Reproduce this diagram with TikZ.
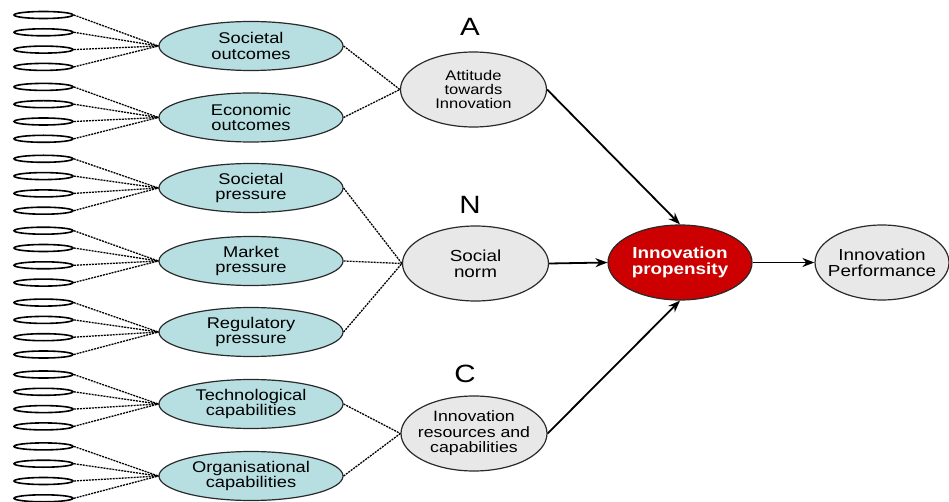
\documentclass[tikz,border=0pt]{standalone}
\usepackage{fontspec}
\setmainfont{Liberation Sans}[FakeStretch=1.18]
\usetikzlibrary{shapes.geometric,arrows.meta}
\definecolor{tealfill}{HTML}{B7DFE2}
\definecolor{grayfill}{HTML}{E8E8E8}
\definecolor{redfill}{HTML}{CC0000}
\definecolor{edge}{HTML}{2A2A2A}
\tikzset{
  smallell/.style={ellipse,draw=black,line width=1.6pt,fill=white,minimum width=59pt,minimum height=7pt,inner sep=0pt},
  tealell/.style={ellipse,draw=edge,line width=1.2pt,fill=tealfill,minimum width=184pt,minimum height=49pt,inner xsep=-6pt,inner ysep=0pt,align=center,font=\fontsize{15.5}{15.5}\selectfont},
  grayell/.style={ellipse,draw=edge,line width=1.2pt,fill=grayfill,minimum width=146pt,minimum height=75pt,inner xsep=-14pt,inner ysep=-4pt,align=center,font=\fontsize{14}{13.8}\selectfont},
  redell/.style={ellipse,draw=edge,line width=1.2pt,fill=redfill,text=white,minimum width=144pt,minimum height=75pt,inner sep=0pt,align=center,font=\fontsize{16}{16}\selectfont\bfseries},
  perfell/.style={ellipse,draw=edge,line width=1.2pt,fill=grayfill,minimum width=134pt,minimum height=75pt,inner xsep=-16pt,inner ysep=0pt,align=center,font=\fontsize{16}{16}\selectfont},
  letter/.style={font=\fontsize{25}{25}\selectfont,inner sep=0pt},
  dotline/.style={line width=1.3pt,dash pattern=on 2pt off 1pt,black},
  arr/.style={line width=1.8pt,-{Stealth[length=12pt,width=9pt]}},
}
\begin{document}
\begin{tikzpicture}[x=1pt,y=-1pt]
\useasboundingbox (0,0) rectangle (949,502);
% teal nodes
\node[tealell] (t1) at (251,46) {Societal\\outcomes};
\node[tealell] (t2) at (251,117.5) {Economic\\outcomes};
\node[tealell] (t3) at (251,188) {Societal\\pressure};
\node[tealell] (t4) at (251,261) {Market\\pressure};
\node[tealell] (t5) at (251,332) {Regulatory\\pressure};
\node[tealell] (t6) at (251,404) {Technological\\capabilities};
\node[tealell] (t7) at (251,476) {Organisational\\capabilities};
% small ellipses
\foreach \g in {1,...,7}{
  \foreach \i in {1,...,4}{
    \pgfmathsetmacro{\yy}{15+(3*(\g-1)+(\i-1))*17.3+(\g-1)*20}
    \node[smallell] (s\g\i) at (43.5,\yy) {};
    \draw[dotline] (s\g\i.east) -- (t\g.west);
  }
}
% gray nodes
\node[grayell] (att) at (473.5,89.5) {Attitude\\towards\\Innovation};
\node[grayell,font=\fontsize{16}{16}\selectfont] (soc) at (475.5,263.5) {Social\\norm};
\node[grayell,font=\fontsize{15}{15.5}\selectfont] (res) at (474,433.5) {Innovation\\resources and\\capabilities};
\node[letter] (la) at (470,27) {A};
\node[letter] (ln) at (470,205) {N};
\node[letter] (lc) at (465,374) {C};
\node[redell] (prop) at (680,262.5) {Innovation\\propensity};
\node[perfell] (perf) at (882,262.5) {Innovation\\Performance};
% dotted connectors
\draw[dotline] (t1.east) -- (att.west);
\draw[dotline] (t2.east) -- (att.west);
\draw[dotline] (t3.east) -- (soc.west);
\draw[dotline] (t4.east) -- (soc.west);
\draw[dotline] (t5.east) -- (soc.west);
\draw[dotline] (t6.east) -- (res.west);
\draw[dotline] (t7.east) -- (res.west);
% arrows
\draw[arr] (att.east) -- (prop.north);
\draw[arr] (soc.east) -- (prop.west);
\draw[arr] (res.east) -- (prop.south);
\draw[arr] (prop.east) -- (perf.west);
\end{tikzpicture}
\end{document}
